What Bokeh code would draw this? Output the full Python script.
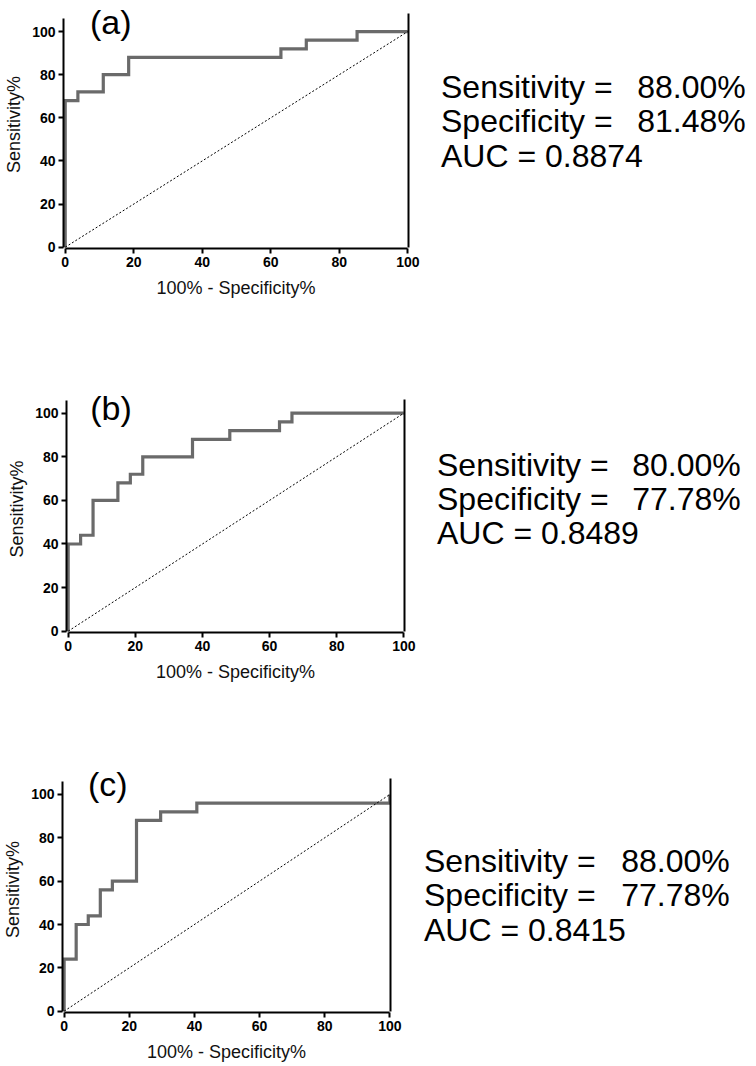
from bokeh.plotting import figure
from bokeh.layouts import column, row
from bokeh.models import FixedTicker, ColumnDataSource, LinearAxis
from bokeh.core.properties import value
from bokeh.embed import file_html
from bokeh.resources import INLINE

# ---------------- data ----------------
panel_labels = ["(a)", "(b)", "(c)"]
ticks = [0, 20, 40, 60, 80, 100]

# ROC vertices: 100% - Specificity% (x) and Sensitivity% (y)
fpr_a = [0, 0, 3.70, 3.70, 11.11, 11.11, 18.52, 18.52, 62.96, 62.96, 70.37, 70.37, 85.19, 85.19, 100]
sens_a = [0, 68, 68, 72, 72, 80, 80, 88, 88, 92, 92, 96, 96, 100, 100]

fpr_b = [0, 0, 3.70, 3.70, 7.41, 7.41, 14.81, 14.81, 18.52, 18.52, 22.22, 22.22,
         37.04, 37.04, 48.15, 48.15, 62.96, 62.96, 66.67, 66.67, 100]
sens_b = [0, 40, 40, 44, 44, 60, 60, 68, 68, 72, 72, 80, 80, 88, 88, 92, 92, 96, 96, 100, 100]

fpr_c = [0, 0, 3.70, 3.70, 7.41, 7.41, 11.11, 11.11, 14.81, 14.81, 22.22, 22.22,
         29.63, 29.63, 40.74, 40.74, 100, 100]
sens_c = [0, 24, 24, 40, 40, 44, 44, 56, 56, 60, 60, 88, 88, 92, 92, 96, 96, 100]

chance_x = [0, 100]
chance_y = [0, 100]

sensitivity = [88.00, 80.00, 88.00]
specificity = [81.48, 77.78, 77.78]
auc = [0.8874, 0.8489, 0.8415]

# ---------------- layout (positions / sizes only) ----------------
# ty: text baselines in the panel's y-data units; tx / vx: pixel offsets in text area
layouts = [
    dict(height=385, width=425, mbl=63, mbb=137, yr=(-0.6, 114.4),
         lab=(13.3, 104.6), spine=108.3, tx=15.5, vx=211.7, ty=[74.1, 58.3, 42.5]),
    dict(height=381, width=421, mbl=66, mbb=134, yr=(-0.6, 112.7),
         lab=(12.75, 102.3), spine=106.3, tx=15.5, vx=210.7, ty=[76.2, 60.6, 45.0]),
    dict(height=300, width=407, mbl=59, mbb=54, yr=(-0.6, 112.9),
         lab=(13.4, 104.8), spine=107.4, tx=16.5, vx=213.7, ty=[69.3, 53.7, 37.5]),
]
XR = (-0.5, 100.2)
FONT = "Liberation Sans"
TOTAL_W = 756
curves = [(fpr_a, sens_a), (fpr_b, sens_b), (fpr_c, sens_c)]


def style_axis(ax):
    ax.axis_line_width = 2
    ax.axis_line_color = "black"
    ax.major_tick_line_width = 2
    ax.major_tick_line_color = "black"
    ax.major_tick_out = 5
    ax.major_tick_in = 0
    ax.minor_tick_line_color = None
    ax.major_label_text_font = FONT
    ax.major_label_text_font_style = "bold"
    ax.major_label_text_font_size = "14px"
    ax.major_label_text_color = "black"
    ax.major_label_standoff = 3
    ax.axis_label_text_font = FONT
    ax.axis_label_text_font_style = "normal"
    ax.axis_label_text_font_size = "18px"
    ax.axis_label_text_color = "#111111"


def make_panel(i):
    lay = layouts[i]
    fpr, sens = curves[i]
    p = figure(width=lay["width"], height=lay["height"], x_range=XR, y_range=lay["yr"],
               output_backend="svg", toolbar_location=None,
               min_border_left=lay["mbl"], min_border_right=17,
               min_border_top=0, min_border_bottom=lay["mbb"])
    p.outline_line_color = None
    p.grid.visible = False

    for ax in (p.xaxis[0], p.yaxis[0]):
        ax.ticker = FixedTicker(ticks=ticks)
        style_axis(ax)
    p.xaxis[0].bounds = (0, 100)
    p.yaxis[0].bounds = (0, 106)
    p.xaxis[0].axis_label = "100% - Specificity%"
    p.yaxis[0].axis_label = "Sensitivity%"
    p.xaxis[0].axis_label_standoff = 8
    p.yaxis[0].axis_label_standoff = 5

    # right frame line
    right = LinearAxis(ticker=FixedTicker(ticks=[]), bounds=(0, lay["spine"]),
                       axis_line_width=2, axis_line_color="black",
                       major_tick_line_color=None, minor_tick_line_color=None,
                       major_label_text_font_size="0px")
    p.add_layout(right, "right")

    # ROC curve and chance line
    p.line(fpr, sens, line_color="#6a6a6a", line_width=3.2, line_join="miter")
    p.line(chance_x, chance_y, line_color="black", line_width=1, line_dash="2 2")

    # panel label
    p.text(x=[lay["lab"][0]], y=[lay["lab"][1]], text=[panel_labels[i]],
           text_font=value(FONT), text_font_size="34px", text_color="black",
           text_align="center", text_baseline="alphabetic")

    # statistics text panel (shares the panel's vertical scale)
    tw = TOTAL_W - lay["width"]
    t = figure(width=tw, height=lay["height"], x_range=(0, tw), y_range=lay["yr"],
               output_backend="svg", toolbar_location=None,
               x_axis_type=None, y_axis_type=None,
               min_border_left=0, min_border_right=0, min_border_top=0,
               min_border_bottom=lay["mbb"])
    t.outline_line_color = None
    t.grid.visible = False
    names = ["Sensitivity =", "Specificity =", "AUC = " + f"{auc[i]:.4f}"]
    src1 = ColumnDataSource(dict(x=[lay["tx"]] * 3, y=lay["ty"], t=names))
    t.text(x="x", y="y", text="t", source=src1, text_font=value(FONT),
           text_font_size="32px", text_color="black",
           text_align="left", text_baseline="alphabetic")
    vals = [f"{sensitivity[i]:.2f}%", f"{specificity[i]:.2f}%"]
    src2 = ColumnDataSource(dict(x=[lay["vx"]] * 2, y=lay["ty"][:2], t=vals))
    t.text(x="x", y="y", text="t", source=src2, text_font=value(FONT),
           text_font_size="32px", text_color="black",
           text_align="left", text_baseline="alphabetic")
    return row(p, t, spacing=0)


layout = column(*[make_panel(i) for i in range(3)], spacing=0)
open("out.html", "w").write(file_html(layout, INLINE))
